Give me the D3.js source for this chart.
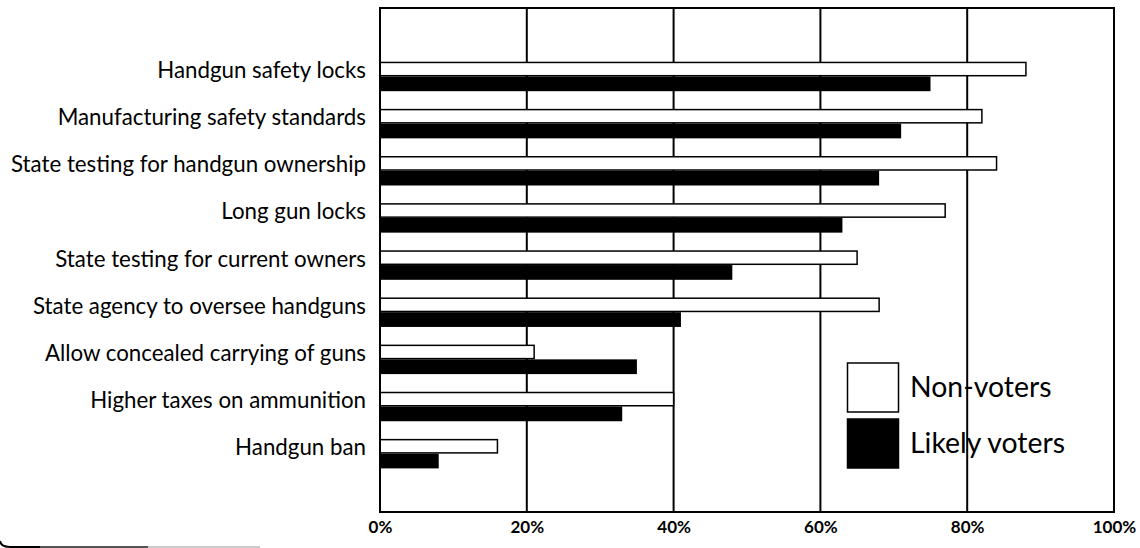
<!DOCTYPE html>
<html>
<head>
<meta charset="utf-8">
<script src="https://cdn.jsdelivr.net/npm/d3@7"></script>
<style>
  html, body { margin: 0; padding: 0; background: #fff; }
  svg { display: block; }
  text { font-family: Lato, "Open Sans", sans-serif; fill: #000; }
</style>
</head>
<body>
<svg id="chart" width="1140" height="548"></svg>
<script>
const categories = [
  "Handgun safety locks",
  "Manufacturing safety standards",
  "State testing for handgun ownership",
  "Long gun locks",
  "State testing for current owners",
  "State agency to oversee handguns",
  "Allow concealed carrying of guns",
  "Higher taxes on ammunition",
  "Handgun ban"
];
const nonVoters    = [88, 82, 84, 77, 65, 68, 21, 40, 16];
const likelyVoters = [75, 71, 68, 63, 48, 41, 35, 33, 8];
const seriesNames = ["Non-voters", "Likely voters"];
const tickValues = [0, 20, 40, 60, 80, 100];

const svg = d3.select("#chart");
const plot = { left: 380, right: 1114, top: 8, bottom: 512 };

const x = d3.scaleLinear().domain([0, 100]).range([plot.left, plot.right]);
const step = 47.15, bw = 29.5;
const y = d3.scaleBand()
  .domain(categories)
  .range([61.7, 61.7 + categories.length * step - (step - bw)])
  .paddingInner(1 - bw / step)
  .paddingOuter(0);
const ySub = d3.scaleBand().domain(seriesNames).range([0, y.bandwidth()]).padding(0);

const rows = categories.map((c, i) => ({ cat: c, vals: [nonVoters[i], likelyVoters[i]] }));

// frame background
svg.append("rect")
  .attr("x", plot.left).attr("y", plot.top)
  .attr("width", plot.right - plot.left).attr("height", plot.bottom - plot.top)
  .attr("fill", "#fff");

// legend (drawn under gridlines, as in the reference)
const legend = svg.append("g");
const legY = [363, 419];
seriesNames.forEach((s, i) => {
  legend.append("rect")
    .attr("x", 847.5).attr("y", legY[i])
    .attr("width", 51).attr("height", 49)
    .attr("fill", i === 0 ? "#fff" : "#000")
    .attr("stroke", "#000").attr("stroke-width", 1.5);
  legend.append("text")
    .attr("x", 910).attr("y", legY[i] + 34)
    .attr("font-size", 28.4)
    .text(s);
});

// gridlines
svg.append("g")
  .selectAll("line")
  .data(tickValues.filter(t => t > 0 && t < 100))
  .join("line")
  .attr("x1", d => x(d)).attr("x2", d => x(d))
  .attr("y1", plot.top).attr("y2", plot.bottom)
  .attr("stroke", "#000").attr("stroke-width", 2);

// bars
const g = svg.append("g")
  .selectAll("g")
  .data(rows)
  .join("g")
  .attr("transform", d => `translate(0,${y(d.cat)})`);

g.selectAll("rect")
  .data(d => d.vals.map((v, i) => ({ v, s: seriesNames[i], i })))
  .join("rect")
  .attr("x", x(0))
  .attr("y", d => ySub(d.s) + (d.i === 0 ? 0.75 : 0))
  .attr("width", d => x(d.v) - x(0))
  .attr("height", d => ySub.bandwidth() - (d.i === 0 ? 1.5 : 0))
  .attr("fill", d => d.i === 0 ? "#fff" : "#000")
  .attr("stroke", d => d.i === 0 ? "#000" : "none")
  .attr("stroke-width", 1.5);

// frame
svg.append("rect")
  .attr("x", plot.left).attr("y", plot.top)
  .attr("width", plot.right - plot.left).attr("height", plot.bottom - plot.top)
  .attr("fill", "none").attr("stroke", "#000").attr("stroke-width", 2);

// category labels
svg.append("g")
  .selectAll("text")
  .data(categories)
  .join("text")
  .attr("x", 366)
  .attr("y", d => y(d) + y.bandwidth() / 2 + 1.5)
  .attr("text-anchor", "end")
  .attr("font-size", 22.3)
  .text(d => d);

// x-axis tick labels
const xAxis = d3.axisBottom(x).tickValues(tickValues).tickFormat(d => d + "%").tickSize(0);
const ax = svg.append("g")
  .attr("transform", `translate(0,${plot.bottom})`)
  .call(xAxis);
ax.select(".domain").remove();
ax.selectAll("text")
  .attr("font-family", "Lato, sans-serif")
  .attr("font-size", 17)
  .attr("font-weight", 700)
  .attr("fill", "#000")
  .attr("dy", 0)
  .attr("y", 21);

// decorative bottom-left rule
svg.append("path")
  .attr("d", "M0,541 Q1,547 10,547 L40,547")
  .attr("fill", "none").attr("stroke", "#000").attr("stroke-width", 2);
svg.append("line")
  .attr("x1", 40).attr("x2", 148).attr("y1", 547).attr("y2", 547)
  .attr("stroke", "#555").attr("stroke-width", 2);
svg.append("line")
  .attr("x1", 148).attr("x2", 260).attr("y1", 547).attr("y2", 547)
  .attr("stroke", "#ccc").attr("stroke-width", 2);
</script>
</body>
</html>
